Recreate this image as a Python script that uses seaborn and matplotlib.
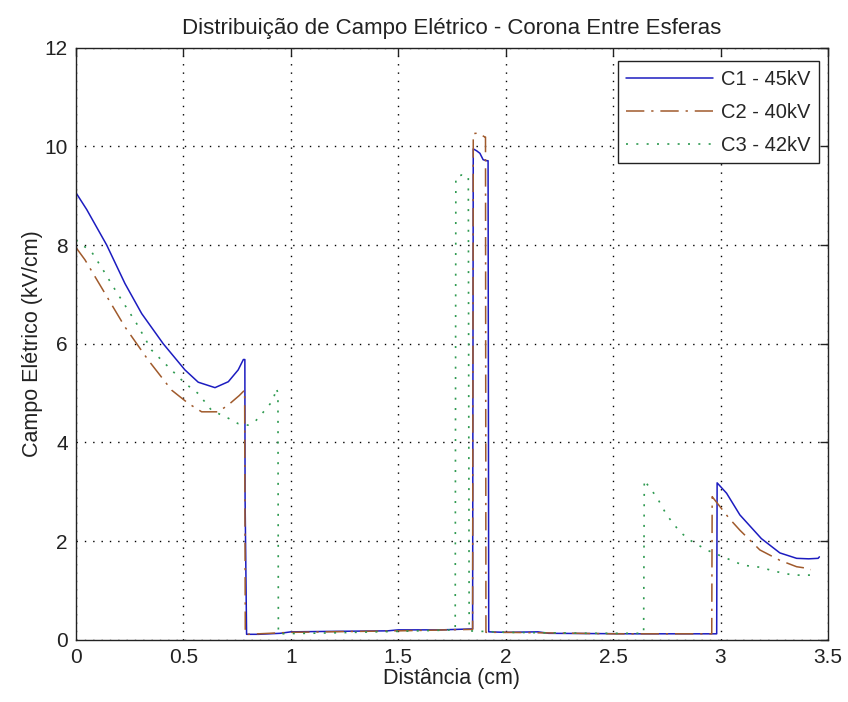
import matplotlib
matplotlib.use("Agg")
import matplotlib.pyplot as plt
import seaborn as sns
import pandas as pd

# ---- data ----
x_c1 = [0.0, 0.05, 0.143, 0.228, 0.306, 0.406, 0.507, 0.569, 0.647, 0.709, 0.755, 0.779, 0.786,
        0.787, 0.794, 0.85, 0.95, 1.0, 1.2, 1.45, 1.5, 1.7, 1.846, 1.849, 1.865, 1.88, 1.895,
        1.911, 1.918, 1.921, 2.0, 2.15, 2.2, 2.6, 2.982, 2.984, 3.028, 3.09, 3.19, 3.276, 3.354,
        3.41, 3.454, 3.46]
y_c1 = [9.06, 8.72, 8.0, 7.22, 6.61, 6.0, 5.47, 5.22, 5.11, 5.23, 5.47, 5.68, 5.68,
        2.87, 0.11, 0.11, 0.13, 0.16, 0.17, 0.18, 0.2, 0.2, 0.22, 9.95, 9.91, 9.86, 9.73,
        9.71, 9.71, 0.16, 0.15, 0.16, 0.13, 0.12, 0.12, 3.18, 2.97, 2.53, 2.05, 1.76, 1.65,
        1.64, 1.65, 1.68]

x_c2 = [0.0, 0.042, 0.135, 0.228, 0.336, 0.445, 0.523, 0.585, 0.662, 0.709, 0.76, 0.785,
        0.788, 0.80, 1.0, 1.5, 1.846, 1.849, 1.872, 1.903, 1.906, 1.908, 2.0, 2.5, 2.959,
        2.961, 3.04, 3.09, 3.183, 3.276, 3.354, 3.40, 3.42]
y_c2 = [7.95, 7.7, 7.02, 6.34, 5.67, 5.06, 4.79, 4.62, 4.62, 4.76, 4.95, 5.06,
        0.11, 0.11, 0.15, 0.18, 0.21, 10.26, 10.27, 10.19, 10.19, 0.15, 0.15, 0.12, 0.12,
        2.9, 2.46, 2.22, 1.82, 1.61, 1.48, 1.45, 1.42]

x_c3 = [0.0, 0.073, 0.127, 0.174, 0.228, 0.282, 0.352, 0.43, 0.507, 0.569, 0.631, 0.709,
        0.755, 0.80, 0.833, 0.887, 0.918, 0.932, 0.94, 0.942, 1.2, 1.5, 1.765, 1.768, 1.795,
        1.826, 1.83, 2.0, 2.4, 2.642, 2.645, 2.671, 2.702, 2.749, 2.81, 2.857, 2.935, 3.012,
        3.105, 3.183, 3.26, 3.338, 3.43, 3.45]
y_c3 = [8.1, 7.86, 7.49, 7.15, 6.78, 6.41, 5.87, 5.53, 5.2, 4.99, 4.65, 4.49,
        4.38, 4.35, 4.42, 4.69, 4.86, 5.1, 5.0, 0.12, 0.14, 0.17, 0.2, 9.38, 9.42,
        9.4, 0.18, 0.15, 0.13, 0.13, 3.24, 3.07, 2.9, 2.53, 2.19, 2.02, 1.82, 1.68,
        1.51, 1.47, 1.38, 1.31, 1.31, 1.33]

series_labels = ["C1 - 45kV", "C2 - 40kV", "C3 - 42kV"]
x_ticks = [0, 0.5, 1, 1.5, 2, 2.5, 3, 3.5]
x_ticklabels = ["0", "0.5", "1", "1.5", "2", "2.5", "3", "3.5"]
y_ticks = [0, 2, 4, 6, 8, 10, 12]
title = "Distribuição de Campo Elétrico - Corona Entre Esferas"
xlabel = "Distância (cm)"
ylabel = "Campo Elétrico (kV/cm)"

sns.set_style("white")
plt.rcParams["font.family"] = ["Liberation Sans", "DejaVu Sans"]

fig = plt.figure(figsize=(8.48, 7.02), dpi=100)
ax = fig.add_axes([0.0896, 0.0887, 0.8868, 0.8433])

styles = [
    dict(color="#1c1cc0", linestyle="-", linewidth=1.1),
    dict(color="#a05a2c", linestyle=(0, (12, 4.5, 1.5, 4.5)), linewidth=1.1),
    dict(color="#2e9a50", linestyle=(0, (1.2, 5)), linewidth=1.2),
]
for xs, ys, lab, st in zip([x_c1, x_c2, x_c3], [y_c1, y_c2, y_c3], series_labels, styles):
    df = pd.DataFrame({"x": xs, "y": ys})
    sns.lineplot(data=df, x="x", y="y", ax=ax, estimator=None, sort=False,
                 label=lab, **st)

ax.set_xlim(0, 3.5)
ax.set_ylim(0, 12)
ax.set_xticks(x_ticks)
ax.set_xticklabels(x_ticklabels)
ax.set_yticks(y_ticks)
ax.grid(True, color="black", linestyle=(0, (1, 5)), linewidth=1.0)
ax.tick_params(direction="in", length=6, width=1.0, top=True, right=True,
               labelsize=15, colors="#222222", pad=6)
for sp in ax.spines.values():
    sp.set_color("#222222")
    sp.set_linewidth(1.0)

ax.set_title(title, fontsize=16, color="#222222", pad=10)
ax.set_xlabel(xlabel, fontsize=15.5, color="#222222", labelpad=1)
ax.set_ylabel(ylabel, fontsize=15.5, color="#222222", labelpad=1)

leg = ax.legend(loc="upper right", bbox_to_anchor=(0.988, 0.977), borderaxespad=0,
                fontsize=14.5, frameon=True, fancybox=False, framealpha=1,
                edgecolor="#222222", handlelength=4.3, labelspacing=0.7,
                borderpad=0.42, handletextpad=0.4)
leg.get_frame().set_linewidth(1.0)

fig.savefig("out.png", dpi=100, facecolor="white")
